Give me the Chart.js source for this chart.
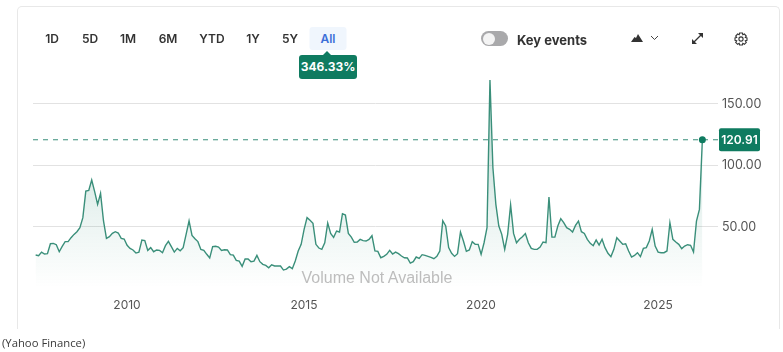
<!DOCTYPE html>
<html>
<head>
<meta charset="utf-8">
<script src="https://cdn.jsdelivr.net/npm/chart.js@4"></script>
<style>
  html, body { margin: 0; padding: 0; background: #fff; }
  body { width: 783px; height: 352px; position: relative; overflow: hidden; font-family: Inter, "Liberation Sans", sans-serif; }
  .card { position: absolute; left: 17px; top: 6px; width: 763px; height: 323px; border: 1px solid #e8e8e8; border-bottom: none; border-radius: 5px 5px 0 0; box-sizing: border-box; }
  canvas { position: absolute; left: 0; top: 0; }
  .range { position: absolute; top: 27px; height: 23px; line-height: 23px; transform: translateX(-50%); font-size: 12px; font-weight: 600; color: #333; }
  .range.active { width: 37px; text-align: center; background: #f0f6fd; color: #3c6fd8; border-radius: 3px; }
  .badge { position: absolute; left: 299px; top: 55px; width: 58px; height: 24px; line-height: 24px; background: #0f7b60; color: #fff; border-radius: 3px; font-size: 12px; font-weight: 700; text-align: center; }
  .badge:before { content: ""; position: absolute; left: 24px; top: -4px; border: 4px solid transparent; border-top: 0; border-bottom-color: #0f7b60; }
  .toggle { position: absolute; left: 481px; top: 31px; width: 27px; height: 15px; border-radius: 8px; background: #a9a9ab; }
  .toggle:before { content: ""; position: absolute; left: 2px; top: 1.5px; width: 12px; height: 12px; border-radius: 50%; background: #f4f4f4; }
  .events { position: absolute; left: 517px; top: 31px; line-height: 18px; font-size: 13px; font-weight: 700; color: #333; }
  .novol { position: absolute; left: 277px; width: 200px; top: 269px; text-align: center; font: 16px "Liberation Sans", sans-serif; color: #bdbdbd; }
  .source { position: absolute; left: 2px; top: 335px; font: 11.3px "Open Sans", sans-serif; color: #3a3a3a; }
  svg { position: absolute; }
</style>
</head>
<body>
<div class="card"></div>
<canvas id="chart" width="783" height="352"></canvas>
<div id="ranges"></div>
<div class="badge">346.33%</div>
<div class="toggle"></div>
<div class="events">Key events</div>
<svg style="left:631px;top:33px" width="12" height="10" viewBox="0 0 12 10"><path d="M0 9 L3.5 4 L5 5 L7 1 L12 9 Z" fill="#333"/></svg>
<svg style="left:650px;top:35px" width="9" height="6" viewBox="0 0 9 6"><path d="M1 1 L4.5 4.5 L8 1" fill="none" stroke="#444" stroke-width="1"/></svg>
<svg style="left:691px;top:32px" width="13" height="13" viewBox="0 0 13 13"><path d="M2.5 10.5 L10.5 2.5" stroke="#333" stroke-width="1.2"/><path d="M7 1 H12 V6 Z M1 7 V12 H6 Z" fill="#333"/></svg>
<svg style="left:734px;top:32px" width="14" height="14" viewBox="0 0 14 14"><path d="M5.6 1 H8.4 L8.8 2.8 L10.4 2 L12.3 4 L11.3 5.5 L13 6 V8.4 L11.3 8.8 L12.3 10.4 L10.4 12.3 L8.8 11.3 L8.4 13 H5.6 L5.2 11.3 L3.6 12.3 L1.7 10.4 L2.7 8.8 L1 8.4 V6 L2.7 5.5 L1.7 4 L3.6 2 L5.2 2.8 Z" fill="none" stroke="#333" stroke-width="1.1"/><circle cx="7" cy="7" r="2.1" fill="none" stroke="#333" stroke-width="1.1"/></svg>
<div class="novol">Volume Not Available</div>
<div class="source">(Yahoo Finance)</div>

<script>
const rangeLabels = ["1D", "5D", "1M", "6M", "YTD", "1Y", "5Y", "All"];
const rangeCenters = [52, 90, 128, 168, 212, 253, 290, 328];

const yearTicks = [2010, 2015, 2020, 2025];
const priceTicks = [50, 100, 150];
const firstMonth = 2007.42;
const lastPrice = 120.91;

// monthly closes, one array per stretch of the line
const closes2007 = [27.2, 26.7, 29.6, 28, 28.3, 36.4, 36.7, 35.6, 29.9, 34.3, 38.1, 38.1, 41.3, 44, 46.2, 49.4, 57.6, 79.2, 79.8, 88.2, 78.7, 68.4, 77.3, 54.9, 40.8, 42.1, 44.8, 46.2, 45.1, 40.8, 40.2, 35.1, 32.6, 31.3, 28.8, 29.6, 39.4, 38.9, 31, 33.2, 29.9, 31.3, 31, 29.1, 34.8, 38.3, 34, 29.6, 32.6, 30.7, 33.2, 44, 54.9, 43.2, 40.5, 38.1, 31.8, 31, 27.8, 24.8, 34, 34.3, 33.7, 31, 31.5, 31.3, 27.5, 27.2, 22.9, 22.3, 18, 24, 24, 21.8, 22.3, 26.9, 21.8];
const closes2013 = [19.6, 18.8, 16.9, 19.3, 18.3, 18.3, 18.3, 15, 15.8, 17.7, 16.1, 22.3, 30.5, 35.9, 48, 57.6, 55.4, 53, 35.9, 32.9, 31.8, 37.2, 53.2, 44.8, 41.6, 46.7, 45.9, 60.8, 59.7, 44.8, 41.8, 37.5, 37.8, 39.9, 38.9, 38.6, 39.9, 42.9, 30.5, 30.2, 25, 26.1, 27.8, 31, 28, 29.6, 28.3, 26.4, 25, 24.8, 20.7, 21.8, 25.6, 24.5, 27.5, 26.9, 26.1, 25.3, 24.2, 26.1, 30.5, 55.1, 50.8, 33.2, 28.6, 26.1, 28.3, 45.9, 38.6, 30.2, 31.3, 38.1, 35.9, 35.9, 27.8, 37.2, 49.4];
const closes2020 = [169.5, 98.2, 68.4, 50.8, 44, 31.8, 44, 67.9, 44.8, 37.2, 40, 42.1, 44.6, 37.2, 32.6, 31.8, 31.8, 33.7, 37.8, 37.2, 74.4, 41.8, 41.8, 50.8, 56.8, 53.5, 49.4, 48.1, 45.9, 51.3, 54.8, 46.2, 44.8, 40, 36.7, 34.8, 39.4, 35.3, 40, 33.2, 28.6, 25.9, 31.8, 41.3, 38.6, 35.9, 36.4, 30.5, 25.6, 26.9, 29.1, 25.9, 32.6, 33.2, 38.6, 48.1, 34.5, 29.6, 29.1, 29.1, 30.5, 53.5, 40, 37.8, 35.9, 32.4, 34.5, 35.6, 35.1, 29.6, 54.8, 64.3, lastPrice];

const closes = [...closes2007, ...closes2013, ...closes2020];
const linePoints = closes.map((value, index) => ({ x: firstMonth + index / 12, y: value }));

rangeLabels.forEach((label, index) => {
  const button = document.createElement("div");
  button.className = label === "All" ? "range active" : "range";
  button.style.left = rangeCenters[index] + "px";
  button.textContent = label;
  document.getElementById("ranges").appendChild(button);
});

// green price tag at the right end of the dashed line
const priceTag = {
  id: "priceTag",
  afterDraw(chart) {
    const { ctx } = chart;
    const y = chart.scales.y.getPixelForValue(lastPrice);
    ctx.save();
    ctx.fillStyle = "#0f7b60";
    ctx.beginPath();
    ctx.roundRect(719, y - 11.5, 41, 23, 2);
    ctx.fill();
    ctx.fillStyle = "#fff";
    ctx.font = "600 12px Inter";
    ctx.textAlign = "center";
    ctx.textBaseline = "middle";
    ctx.fillText(lastPrice.toFixed(2), 739.5, y + 0.5);
    ctx.restore();
  },
};

const canvas = document.getElementById("chart");
const fade = canvas.getContext("2d").createLinearGradient(0, 150, 0, 288);
fade.addColorStop(0, "rgba(15,123,96,0.2)");
fade.addColorStop(0.45, "rgba(15,123,96,0.09)");
fade.addColorStop(1, "rgba(15,123,96,0)");

new Chart(canvas, {
  type: "line",
  data: {
    datasets: [
      {
        data: linePoints,
        borderColor: "#3a8f7a",
        borderWidth: 1.4,
        backgroundColor: fade,
        fill: "origin",
        tension: 0,
        pointRadius: (ctx) => (ctx.dataIndex === closes.length - 1 ? 3.5 : 0),
        pointBackgroundColor: "#0f7b60",
        pointBorderWidth: 0,
      },
      {
        data: [
          { x: 2007.345, y: lastPrice },
          { x: 2026.695, y: lastPrice },
        ],
        borderColor: "#3a8f7a",
        borderWidth: 1,
        borderDash: [5, 5],
        pointRadius: 0,
        fill: false,
      },
    ],
  },
  options: {
    responsive: false,
    animation: false,
    layout: { padding: { left: 33, top: 71, right: 0, bottom: 0 } },
    plugins: { legend: { display: false }, tooltip: { enabled: false } },
    scales: {
      x: {
        type: "linear",
        min: 2007.345,
        max: 2026.695,
        border: { display: false },
        grid: { display: false },
        afterFit: (scale) => { scale.height = 63.5; },
        afterBuildTicks: (scale) => { scale.ticks = yearTicks.map((value) => ({ value })); },
        ticks: {
          padding: 2,
          maxRotation: 0,
          color: "#555",
          font: { family: "Inter", size: 12 },
          callback: (value) => String(value),
        },
      },
      y: {
        position: "right",
        min: 0,
        max: 176.8,
        border: { display: false },
        grid: { color: "#e2e2e2", lineWidth: 1, drawTicks: false },
        afterFit: (scale) => { scale.width = 65; },
        afterBuildTicks: (scale) => { scale.ticks = priceTicks.map((value) => ({ value })); },
        ticks: {
          padding: 4,
          color: "#555",
          font: { family: "Inter", size: 12.5 },
          callback: (value) => value.toFixed(2),
        },
      },
    },
  },
  plugins: [priceTag],
});
</script>
</body>
</html>
